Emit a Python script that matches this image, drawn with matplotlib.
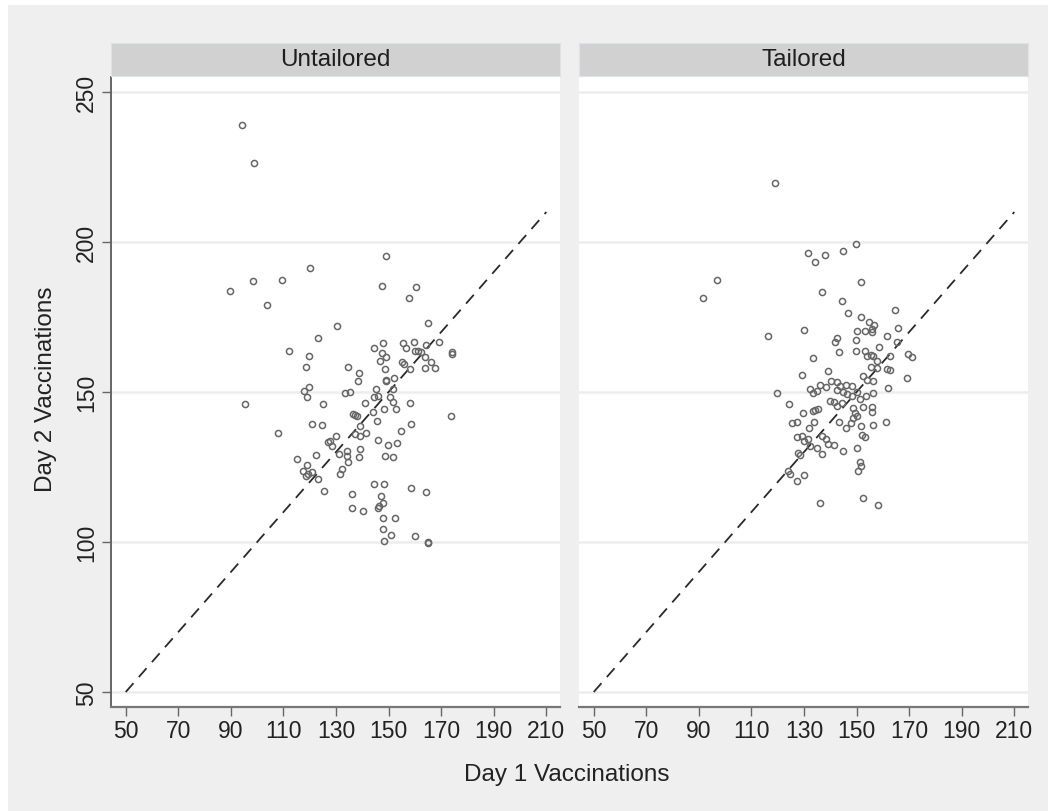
import matplotlib
matplotlib.use("Agg")
import matplotlib.pyplot as plt
from matplotlib.patches import Rectangle

plt.rcParams['font.family'] = ['Liberation Sans', 'DejaVu Sans']

panel_titles = ["Untailored", "Tailored"]
x_label = "Day 1 Vaccinations"
y_label = "Day 2 Vaccinations"
x_ticks = [50, 70, 90, 110, 130, 150, 170, 190, 210]
y_ticks = [50, 100, 150, 200, 250]
ref_line = [50, 210]

untailored_day1 = [
    94.3, 98.9, 89.8, 98.5, 109.5, 120.2, 103.8, 149.1, 147.5, 160.6, 157.6, 165.1, 130.5, 123.2,
    112.1, 119.8, 118.4, 144.4, 147.8, 155.6, 156.8, 159.7, 164.4, 169.1, 160.0, 161.3, 162.5, 163.8,
    174.2, 174.0, 147.3, 149.2, 146.7, 155.2, 155.8, 158.1, 163.9, 167.6, 166.1, 134.7, 138.7, 138.2,
    148.6, 149.2, 152.0, 149.0, 117.8, 119.7, 118.8, 133.6, 135.5, 145.2, 144.4, 146.1, 151.8, 150.5,
    151.8, 152.8, 148.2, 158.1, 95.5, 125.1, 141.1, 136.3, 137.2, 138.1, 144.2, 145.7, 173.6, 158.7,
    120.7, 124.5, 139.1, 108.0, 137.2, 139.1, 141.4, 129.8, 154.9, 127.7, 127.1, 128.3, 145.8, 149.9,
    153.2, 122.5, 115.1, 131.2, 134.0, 134.3, 134.7, 138.7, 139.3, 148.6, 151.5, 118.8, 117.5, 119.4,
    121.0, 118.4, 123.1, 132.1, 131.5, 125.5, 144.4, 148.3, 158.7, 164.3, 136.2, 147.1, 147.7, 146.4,
    146.1, 136.2, 140.2, 148.0, 152.4, 147.7, 151.0, 160.0, 148.3, 164.8, 165.1,
]
untailored_day2 = [
    239.0, 226.3, 183.6, 186.9, 187.3, 191.4, 179.0, 195.4, 185.3, 184.9, 181.4, 173.1, 171.9, 168.0,
    163.8, 162.1, 158.4, 164.7, 166.2, 166.2, 164.6, 166.8, 165.7, 166.8, 163.6, 163.6, 163.2, 161.6,
    163.4, 162.6, 163.0, 161.8, 160.2, 159.9, 159.3, 157.7, 157.9, 158.0, 160.1, 158.2, 156.3, 153.7,
    157.7, 154.1, 154.7, 153.7, 150.4, 151.6, 148.2, 149.8, 150.1, 151.0, 148.4, 148.8, 151.0, 148.2,
    146.6, 144.3, 144.3, 146.3, 145.9, 146.0, 146.2, 142.7, 142.3, 142.1, 143.2, 140.3, 142.1, 139.3,
    139.3, 139.0, 138.8, 136.4, 136.0, 135.4, 136.2, 135.2, 136.9, 133.8, 133.2, 132.1, 133.9, 132.3,
    133.1, 129.0, 127.7, 129.3, 130.4, 128.8, 126.8, 128.4, 131.0, 128.8, 128.3, 125.8, 123.8, 122.7,
    123.2, 122.1, 121.0, 124.3, 122.7, 117.1, 119.2, 119.3, 117.9, 116.6, 116.0, 115.4, 113.0, 111.9,
    111.2, 111.3, 110.3, 108.1, 108.1, 104.3, 102.3, 102.1, 100.2, 100.1, 99.8,
]

tailored_day1 = [
    119.0, 131.6, 138.1, 134.3, 144.7, 149.8, 97.0, 91.5, 151.5, 136.8, 144.3, 146.9, 151.5, 164.6,
    165.6, 129.8, 116.2, 154.9, 156.6, 150.0, 153.2, 155.7, 156.0, 161.4, 142.4, 141.8, 149.8, 165.2,
    143.3, 149.8, 153.3, 153.8, 155.4, 156.4, 157.9, 158.6, 162.7, 169.4, 170.9, 133.3, 139.3, 129.1,
    169.0, 155.5, 157.6, 161.4, 162.7, 152.3, 153.8, 156.1, 140.1, 142.4, 143.7, 146.0, 148.1, 142.7,
    132.3, 133.3, 136.1, 138.4, 135.1, 119.6, 145.0, 146.2, 148.1, 150.0, 151.3, 153.6, 156.4, 162.1,
    124.4, 139.9, 141.4, 142.7, 144.3, 134.2, 135.5, 148.5, 149.4, 148.8, 147.9, 146.0, 152.6, 155.7,
    155.7, 129.5, 125.3, 127.5, 131.9, 133.8, 143.4, 156.4, 161.1, 151.6, 151.9, 153.2, 136.7, 138.4,
    139.3, 141.4, 127.2, 129.1, 130.0, 132.3, 135.1, 127.6, 136.7, 144.7, 150.0, 151.3, 151.5, 150.7,
    124.0, 124.7, 129.8, 127.5, 136.1, 152.6, 158.3, 128.5, 131.6, 150.0, 133.5,
]
tailored_day2 = [
    219.8, 196.3, 195.8, 193.4, 196.9, 199.2, 187.2, 181.2, 186.6, 183.2, 180.3, 176.4, 175.1, 177.3,
    171.2, 170.8, 168.8, 173.2, 172.3, 170.4, 170.4, 171.0, 169.9, 168.6, 167.9, 166.6, 167.4, 166.8,
    163.2, 163.6, 163.6, 162.1, 162.3, 161.9, 160.4, 165.1, 161.9, 162.7, 161.5, 161.2, 156.9, 155.7,
    154.6, 158.2, 157.9, 157.7, 157.4, 155.2, 154.1, 153.8, 153.8, 153.4, 152.1, 152.3, 152.1, 150.8,
    151.0, 149.7, 152.3, 151.6, 150.4, 149.6, 150.1, 149.3, 148.6, 150.1, 147.7, 148.6, 149.7, 151.2,
    146.0, 147.1, 146.6, 145.4, 146.3, 144.1, 144.3, 144.5, 143.0, 141.2, 139.7, 137.9, 144.9, 144.9,
    143.2, 142.9, 139.7, 140.1, 138.1, 140.1, 140.1, 139.0, 140.1, 138.6, 135.7, 134.9, 135.4, 134.3,
    132.7, 132.4, 134.9, 135.4, 133.8, 132.1, 131.2, 129.7, 129.3, 130.4, 131.2, 126.5, 125.4, 123.5,
    123.8, 122.7, 122.3, 120.4, 113.0, 114.5, 112.3, 128.9, 134.3, 142.1, 143.8,
]

W, H = 1048, 812
fig = plt.figure(figsize=(W / 100, H / 100), dpi=100, facecolor='white')
fig.patches.append(Rectangle((8 / W, 0), 1 - 8 / W, 1 - 6 / H, transform=fig.transFigure,
                             facecolor='#efefef', edgecolor='none', zorder=-10))

plot_bottom = 1 - 708 / H
plot_height = (708 - 78) / H
panel_w = 449 / W
lefts = [111 / W, 579 / W]
series = [(untailored_day1, untailored_day2), (tailored_day1, tailored_day2)]

for i, (left, title, (xs, ys)) in enumerate(zip(lefts, panel_titles, series)):
    ax = fig.add_axes([left, plot_bottom, panel_w, plot_height])
    ax.set_facecolor('white')
    ax.set_xlim(44.4, 215.2)
    ax.set_ylim(45, 255)
    ax.set_xticks(x_ticks)
    ax.set_yticks(y_ticks)
    for s in ['top', 'right']:
        ax.spines[s].set_visible(False)
    ax.spines['bottom'].set_color('#777777')
    ax.spines['bottom'].set_linewidth(1.6)
    ax.grid(axis='y', color='#ededed', linewidth=1.8, zorder=0)
    ax.set_axisbelow(True)
    ax.tick_params(axis='x', length=6.5, width=1.0, color='#666666', labelsize=16.5,
                   labelcolor='#222222', pad=2)
    if i == 0:
        ax.spines['left'].set_color('#666666')
        ax.spines['left'].set_linewidth(1.4)
        ax.tick_params(axis='y', length=6.5, width=1.0, color='#666666', labelsize=16.5,
                       labelcolor='#222222', pad=3)
        for lab in ax.get_yticklabels():
            lab.set_rotation(90)
            lab.set_va('center')
    else:
        ax.spines['left'].set_visible(False)
        ax.tick_params(axis='y', length=0, labelleft=False)
    ax.plot(xs, ys, linestyle='none', marker='o', markersize=4.4, markerfacecolor='none',
            markeredgecolor='#666666', markeredgewidth=1.1, zorder=3)
    ax.plot(ref_line, ref_line, color='#2a2a2a', linewidth=1.3, dashes=(6.5, 4.5), zorder=2)

    sax = fig.add_axes([left, 1 - 77 / H, panel_w, 33 / H])
    sax.set_facecolor('#d1d1d1')
    sax.set_xticks([])
    sax.set_yticks([])
    for s in sax.spines.values():
        s.set_color('#dde3e8')
        s.set_linewidth(0.8)
    sax.text(0.5, 0.5, title, ha='center', va='center', fontsize=17.5, color='#1e1e1e',
             transform=sax.transAxes)

fig.text(567 / W, 1 - 775 / H, x_label, ha='center', va='center', fontsize=17.5, color='#222222')
fig.text(46 / W, 1 - 389 / H, y_label, ha='center', va='center', rotation=90, fontsize=17.5,
         color='#222222')

fig.savefig('out.png', dpi=100, facecolor=fig.get_facecolor())
